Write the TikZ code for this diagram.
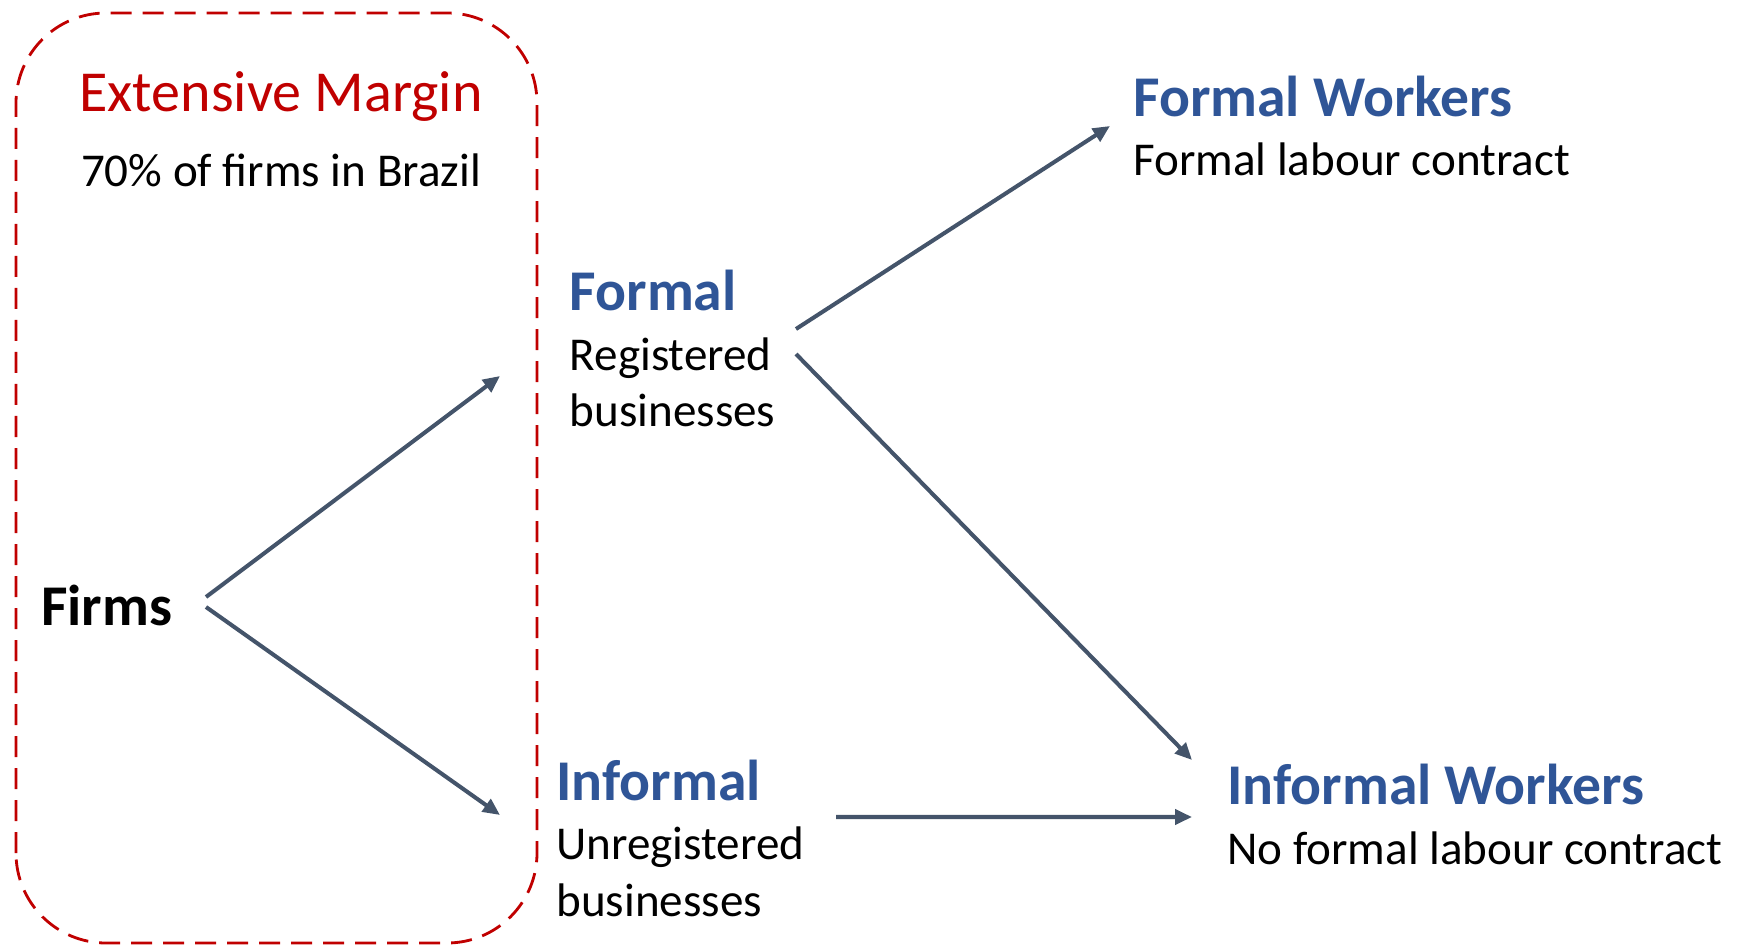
\documentclass[tikz,border=0pt]{standalone}
\usepackage{fontspec}
\setmainfont{Carlito}
\usepackage{xcolor}
\definecolor{arrowslate}{RGB}{68, 84, 106}
\definecolor{headblue}{RGB}{47, 85, 151}
\definecolor{marginred}{RGB}{192, 0, 0}
\usetikzlibrary{arrows.meta,positioning,calc}

\begin{document}
\begin{tikzpicture}[every node/.style={inner sep=0pt, anchor=base west},
    head/.style={font=\fontsize{32.8}{38}\selectfont\bfseries, text=headblue},
    sub/.style={font=\fontsize{26.8}{32.3}\selectfont, align=left},
    flow/.style={-{Triangle[length=0.34cm, width=0.3cm]}, line width=2.3pt, color=arrowslate}]
    \useasboundingbox (0,0) rectangle (34.88,18.9);

    % Extensive margin box
    \draw[marginred, line width=1.6pt, dash pattern=on 0.42cm off 0.22cm, rounded corners=1.8cm] (0.32,0.04) rectangle (10.74,18.64);
    \node[font=\fontsize{33}{38}\selectfont, text=marginred, anchor=base] (margin) at (5.62,16.66) {Extensive Margin};
    \node[font=\fontsize{26.8}{32}\selectfont, anchor=base] (share) at (5.62,15.16) {70\% of firms in Brazil};

    % Firms
    \node[font=\fontsize{32.8}{38}\selectfont\bfseries] (firms) at (0.82,6.4) {Firms};

    % Firm types
    \node[head] (formal) at (11.39,12.68) {Formal};
    \node[sub] (formalsub) at ([yshift=-2.32cm]formal.base west) {Registered\\businesses};
    \node[head] (informal) at (11.12,2.9) {Informal};
    \node[sub] (informalsub) at ([yshift=-2.32cm]informal.base west) {Unregistered\\businesses};

    % Worker types
    \node[head] (fworkers) at (22.66,16.56) {Formal Workers};
    \node[sub] (fworkerssub) at ([yshift=-1.18cm]fworkers.base west) {Formal labour contract};
    \node[head] (iworkers) at (24.54,2.82) {Informal Workers};
    \node[sub] (iworkerssub) at ([yshift=-1.2cm]iworkers.base west) {No formal labour contract};

    % Flows
    \draw[flow] ([shift={(3.3,0.56)}]firms.base west) -- ([shift={(-1.39,-1.3)}]formal.base west);
    \draw[flow] ([shift={(3.3,0.36)}]firms.base west) -- ([shift={(-1.12,-0.3)}]informal.base west);
    \draw[flow] ([shift={(4.53,-0.36)}]formal.base west) -- ([shift={(-0.46,-0.18)}]fworkers.base west);
    \draw[flow] ([shift={(4.53,-0.86)}]formal.base west) -- ([shift={(-0.7,0.88)}]iworkers.base west);
    \draw[flow] ([shift={(5.6,-0.34)}]informal.base west) -- ([shift={(-0.7,-0.26)}]iworkers.base west);
\end{tikzpicture}
\end{document}
